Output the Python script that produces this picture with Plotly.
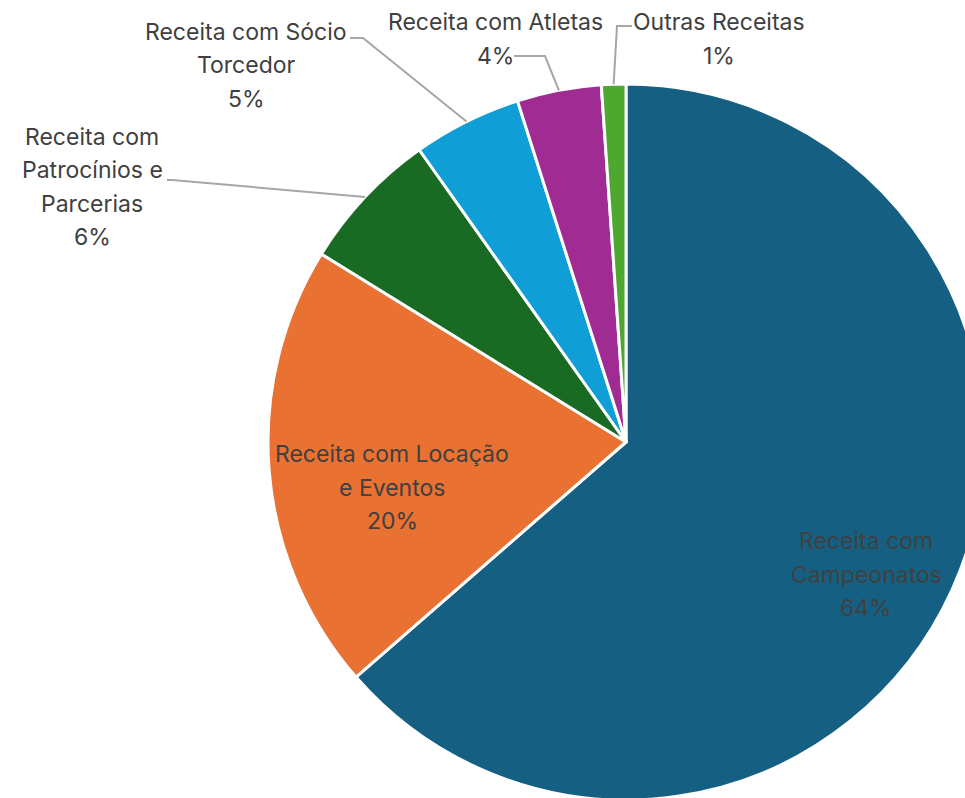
import numpy as np
import plotly.graph_objects as go

# data
labels = ["Receita com Campeonatos", "Receita com Locação e Eventos",
          "Receita com Patrocínios e Parcerias", "Receita com Sócio Torcedor",
          "Receita com Atletas", "Outras Receitas"]
values = [63.6, 20.2, 6.4, 4.9, 3.8, 1.1]
colors = ["#156082", "#E97132", "#196B24", "#0F9ED5", "#A02B93", "#4EA72E"]

# how each data label is broken into lines
label_lines = [["Receita com", "Campeonatos"],
               ["Receita com Locação", "e Eventos"],
               ["Receita com", "Patrocínios e", "Parcerias"],
               ["Receita com Sócio", "Torcedor"],
               ["Receita com Atletas"],
               ["Outras Receitas"]]

# figure geometry (pixels) - pie is bigger than the window, like the original
W, H = 1000, 810
CX, CY, R = 626, 442, 358
LINE_H = 33.5
FONT = "Inter"
TXT = "#404040"

# label placement: centre x, y of first line (pixels)
label_pos = [(866, 541), (392, 454), (92, 137), (246, 32), (495, 22), (719, 22)]
# leader lines: start point (next to text) and elbow, None = no leader
leader = [None, None,
          [(167, 180), (172, 180)],
          [(350, 38), (363, 38)],
          [(514, 56), (545, 56)],
          [(632, 26), (617, 26)]]


def px(x):
    return x / W


def py(y):
    return 1 - y / H


fig = go.Figure(go.Pie(
    labels=labels,
    values=values,
    sort=False,
    direction="clockwise",
    rotation=0,
    marker=dict(colors=colors, line=dict(color="white", width=3)),
    textinfo="none",
    hoverinfo="label+percent",
    showlegend=False,
    domain=dict(x=[px(CX - R), px(CX + R)], y=[py(CY + R), py(CY - R)]),
))

total = float(np.sum(values))
cum = np.cumsum([0] + values[:-1])
for i, v in enumerate(values):
    pct = "%d%%" % round(v / total * 100)
    lines = label_lines[i] + [pct]
    x0, y0 = label_pos[i]
    for k, t in enumerate(lines):
        fig.add_annotation(x=px(x0), y=py(y0 + k * LINE_H), xref="paper", yref="paper",
                           text=t, showarrow=False, xanchor="center", yanchor="middle",
                           font=dict(family=FONT, size=23, color=TXT))
    if leader[i] is not None:
        # end of leader sits on the rim at the middle of the slice
        ang = np.deg2rad((cum[i] + v / 2) / total * 360)
        ex = CX + R * np.sin(ang)
        ey = CY - R * np.cos(ang)
        pts = leader[i] + [(ex, ey)]
        path = "M " + " L ".join("%f,%f" % (px(a), py(b)) for a, b in pts)
        fig.add_shape(type="path", path=path, xref="paper", yref="paper",
                      line=dict(color="#A6A6A6", width=2))

fig.update_layout(
    width=W, height=H,
    margin=dict(l=0, r=0, t=0, b=0),
    paper_bgcolor="white",
    plot_bgcolor="white",
)

fig.write_html("out.html", config={"displayModeBar": False},
               post_script="document.body.style.margin='0';"
                           "document.body.style.overflow='hidden';"
                           "document.documentElement.style.overflow='hidden';")
